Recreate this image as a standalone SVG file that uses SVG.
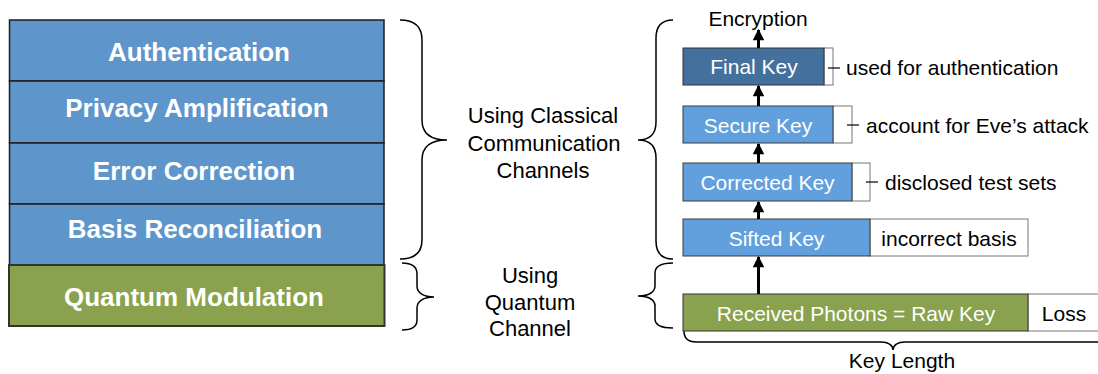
<svg xmlns="http://www.w3.org/2000/svg" width="1098" height="374" viewBox="0 0 1098 374">
<style>
.layer{fill:#5e95ca;stroke:#1e1e1e;stroke-width:1.5}
.quant{fill:#8aa24d;stroke:#333;stroke-width:2}
.lt{font-family:"Liberation Sans",Arial,sans-serif;font-weight:bold;font-size:26px;fill:#fff;text-anchor:middle}
.bt{font-family:"Liberation Sans",Arial,sans-serif;font-size:22px;fill:#000;text-anchor:middle}
.kt{font-family:"Liberation Sans",Arial,sans-serif;font-size:21px;fill:#fff;text-anchor:middle}
.st{font-family:"Liberation Sans",Arial,sans-serif;font-size:21px;fill:#000}
.brace{fill:none;stroke:#000;stroke-width:1.5}
.key{fill:#62a0dd;stroke:#3a3a3a;stroke-width:1}
.wbox{fill:#fff;stroke:#777;stroke-width:1}
.arrow{stroke:#000;stroke-width:3;fill:none;marker-end:url(#ah)}
.tick{stroke:#000;stroke-width:1.2}
</style>
<defs>
<marker id="ah" viewBox="0 0 10 10" refX="9" refY="5" markerWidth="4" markerHeight="3.8" orient="auto" markerUnits="strokeWidth">
<path d="M0,0 L10,5 L0,10 z" fill="#000"/>
</marker>
</defs>
<rect width="1098" height="374" fill="#fff"/>

<g id="layer-authentication"><rect class="layer" x="9.5" y="20" width="374.5" height="61"/><text class="lt" x="199" y="61">Authentication</text></g>
<g id="layer-privacy"><rect class="layer" x="9.5" y="81" width="374.5" height="62"/><text class="lt" x="197" y="117">Privacy Amplification</text></g>
<g id="layer-error"><rect class="layer" x="9.5" y="143" width="374.5" height="61"/><text class="lt" x="194" y="180">Error Correction</text></g>
<g id="layer-basis"><rect class="layer" x="9.5" y="204" width="374.5" height="61"/><text class="lt" x="195" y="238">Basis Reconciliation</text></g>
<g id="layer-quantum"><rect class="quant" x="9" y="265" width="375.5" height="61"/><text class="lt" x="194" y="306">Quantum Modulation</text></g>

<g id="braces">
<path class="brace" d="M400,20 C415,20 422,27 422,40 L422,120 C422,134 432,140 447,140 C432,140 422,146 422,160 L422,240 C422,253 415,259 400,259"/>
<path class="brace" d="M402,263 C412,263 417,267 417,274 L417,286 C417,293 424,297 434,297 C424,297 417,301 417,308 L417,320 C417,327 412,330 402,330"/>
<path class="brace" d="M673,20 C662,20 656,26 656,38 L656,122 C656,134 650,140 638,140 C650,140 656,146 656,158 L656,241 C656,253 662,259 673,259"/>
<path class="brace" d="M673,263 C662,263 655,266 655,273 L655,286 C655,292 649,296 638,296 C649,296 655,300 655,306 L655,319 C655,325 662,328 673,328"/>
<path class="brace" d="M684,331 C684,338 688,342 696,342 L881,342 C888,342 893,345 893,350 C893,345 898,342 905,342 L1100,342"/>
</g>

<g id="label-classical"><text class="bt" x="543" y="123">Using Classical</text><text class="bt" x="544" y="151">Communication</text><text class="bt" x="543" y="178">Channels</text></g>
<g id="label-quantum"><text class="bt" x="530" y="283">Using</text><text class="bt" x="530" y="310">Quantum</text><text class="bt" x="530" y="336">Channel</text></g>

<g id="final-key"><rect class="wbox" x="824" y="48" width="9" height="37"/><rect x="683" y="48" width="141" height="37" fill="#44709e" stroke="#333" stroke-width="1"/><text class="kt" x="754" y="74">Final Key</text><line class="tick" x1="828" y1="68" x2="840" y2="68"/><text class="st" x="846" y="75">used for authentication</text></g>
<g id="secure-key"><rect class="wbox" x="833" y="106" width="19" height="37"/><rect class="key" x="683" y="106" width="150" height="37"/><text class="kt" x="758" y="133">Secure Key</text><line class="tick" x1="847" y1="125" x2="859" y2="125"/><text class="st" x="866" y="133">account for Eve’s attack</text></g>
<g id="corrected-key"><rect class="wbox" x="852" y="163" width="18" height="38"/><rect class="key" x="683" y="163" width="169" height="38"/><text class="kt" x="767.5" y="190">Corrected Key</text><line class="tick" x1="866" y1="182" x2="878" y2="182"/><text class="st" x="885" y="190">disclosed test sets</text></g>
<g id="sifted-key"><rect class="wbox" x="870" y="219" width="158" height="37"/><rect class="key" x="683" y="219" width="187" height="37"/><text class="kt" x="776.5" y="246">Sifted Key</text><text class="st" x="949" y="246" text-anchor="middle">incorrect basis</text></g>
<g id="raw-key"><rect class="wbox" x="1028" y="294" width="75" height="37"/><rect x="683" y="294" width="345" height="37" fill="#8aa24d" stroke="#333" stroke-width="1"/><text class="kt" x="856" y="321">Received Photons = Raw Key</text><text class="st" x="1064" y="321" text-anchor="middle">Loss</text></g>
<g id="encryption"><text class="st" x="758" y="26" text-anchor="middle" font-size="19">Encryption</text></g>
<g id="key-length"><text class="st" x="902" y="368" text-anchor="middle" font-size="20">Key Length</text></g>

<g id="connectors">
<line class="arrow" x1="758.5" y1="48" x2="758.5" y2="30"/>
<line class="arrow" x1="758.5" y1="106" x2="758.5" y2="86"/>
<line class="arrow" x1="758.5" y1="163" x2="758.5" y2="144"/>
<line class="arrow" x1="758.5" y1="219" x2="758.5" y2="202"/>
<line class="arrow" x1="758.5" y1="294" x2="758.5" y2="257"/>
</g>
</svg>
